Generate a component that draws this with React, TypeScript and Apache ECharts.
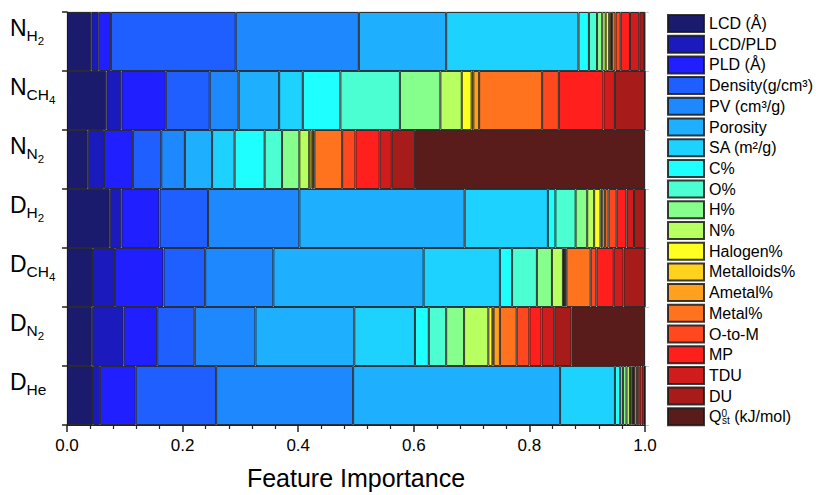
import React, { useEffect, useRef } from "react";
import * as echarts from "echarts";

const features = [
  "LCD (Å)", "LCD/PLD", "PLD (Å)", "Density(g/cm³)", "PV (cm³/g)", "Porosity", "SA (m²/g)",
  "C%", "O%", "H%", "N%", "Halogen%", "Metalloids%", "Ametal%", "Metal%", "O-to-M", "MP", "TDU", "DU",
  "Qst (kJ/mol)",
];
const colors = [
  "#1b1b6e", "#1b1bbd", "#1f1fff", "#1f5eff", "#1e88ff", "#1eb0ff", "#1ed2ff",
  "#1effff", "#4cffd2", "#86ff8c", "#b8ff60", "#ffff20", "#ffd21e", "#ffa01e", "#ff721e",
  "#ff481e", "#ff201e", "#d01c1c", "#a81b1b", "#5a1b1b",
];
// [main letter, subscript, sub-subscript]
const categories = [
  ["N", "H", "2"], ["N", "CH", "4"], ["N", "N", "2"],
  ["D", "H", "2"], ["D", "CH", "4"], ["D", "N", "2"], ["D", "He", ""],
];
const nH2 = [0.042, 0.013, 0.021, 0.216, 0.213, 0.151, 0.229, 0.018, 0.014, 0.009, 0.006, 0.006, 0.003, 0.002, 0.006, 0.009, 0.016, 0.016, 0.009, 0.001];
const nCH4 = [0.068, 0.026, 0.077, 0.076, 0.050, 0.070, 0.041, 0.065, 0.103, 0.070, 0.037, 0.017, 0.003, 0.010, 0.109, 0.029, 0.077, 0.020, 0.052, 0.000];
const nN2 = [0.036, 0.028, 0.050, 0.049, 0.041, 0.047, 0.039, 0.052, 0.030, 0.030, 0.017, 0.004, 0.003, 0.002, 0.048, 0.023, 0.042, 0.021, 0.040, 0.398];
const dH2 = [0.074, 0.020, 0.066, 0.084, 0.158, 0.286, 0.144, 0.013, 0.035, 0.020, 0.012, 0.011, 0.003, 0.005, 0.006, 0.014, 0.017, 0.013, 0.019, 0.000];
const dCH4 = [0.045, 0.038, 0.084, 0.072, 0.118, 0.260, 0.132, 0.021, 0.043, 0.026, 0.019, 0.002, 0.002, 0.002, 0.042, 0.010, 0.030, 0.017, 0.037, 0.000];
const dN2 = [0.043, 0.055, 0.058, 0.065, 0.105, 0.171, 0.105, 0.024, 0.030, 0.031, 0.042, 0.007, 0.002, 0.011, 0.029, 0.022, 0.021, 0.022, 0.030, 0.127];
const dHe = [0.045, 0.012, 0.062, 0.139, 0.237, 0.358, 0.095, 0.009, 0.005, 0.006, 0.006, 0.003, 0.002, 0.002, 0.005, 0.004, 0.004, 0.004, 0.002, 0.000];
const rows = [nH2, nCH4, nN2, dH2, dCH4, dN2, dHe];
const xTicks = ["0.0", "0.2", "0.4", "0.6", "0.8", "1.0"];

const FONT = "'Liberation Sans', Arial, sans-serif";

export default function App() {
  const ref = useRef<HTMLDivElement>(null);
  useEffect(() => {
    if (!ref.current) return;
    const chart = echarts.init(ref.current, null, { renderer: "svg" });
    const catKeys = categories.map((c) => c.join(""));
    const series = features.map((f, i) => ({
      name: f,
      type: "bar",
      stack: "total",
      barWidth: "100%",
      barCategoryGap: 0,
      data: rows.map((r) => r[i]),
      itemStyle: { color: colors[i], borderColor: "rgba(25,25,25,0.85)", borderWidth: 1 },
      emphasis: { disabled: true },
    }));
    chart.setOption({
      animation: false,
      textStyle: { fontFamily: FONT },
      grid: { left: 67, right: 171, top: 12, bottom: 63, show: true, borderColor: "#c8c8c8", borderWidth: 1 },
      legend: {
        orient: "vertical",
        left: 667,
        top: 14,
        padding: 0,
        itemWidth: 36,
        itemHeight: 17,
        itemGap: 1.7,
        icon: "rect",
        data: features,
        formatter: (name: string) =>
          name === "Qst (kJ/mol)" ? "{q|Q}{p|0}{s|st}{t| (kJ/mol)}" : name,
        textStyle: {
          fontFamily: FONT,
          fontSize: 16,
          color: "#000",
          lineHeight: 17,
          rich: {
            q: { fontSize: 16, fontFamily: FONT, color: "#000", lineHeight: 17 },
            p: { fontSize: 10, fontFamily: FONT, color: "#000", width: 0.5, verticalAlign: "top", lineHeight: 10 },
            s: { fontSize: 10, fontFamily: FONT, color: "#000", verticalAlign: "bottom", lineHeight: 10 },
            t: { fontSize: 16, fontFamily: FONT, color: "#000", lineHeight: 17 },
          },
        },
      },
      xAxis: [
        {
          type: "value",
          min: 0,
          max: 1,
          interval: 0.2,
          position: "bottom",
          name: "Feature Importance",
          nameLocation: "middle",
          nameGap: 40,
          nameTextStyle: { fontSize: 25, color: "#000", fontFamily: FONT },
          axisLine: { show: true, lineStyle: { color: "#222", width: 1 } },
          axisTick: { show: true, length: 7, lineStyle: { color: "#222", width: 1.5 } },
          minorTick: { show: true, splitNumber: 5, length: 4, lineStyle: { color: "#222", width: 1.2 } },
          splitLine: { show: false },
          axisLabel: {
            fontSize: 17,
            color: "#000",
            margin: 12,
            fontFamily: FONT,
            formatter: (v: number) => xTicks[Math.round(v / 0.2)] ?? "",
          },
        },
      ],
      yAxis: [
        {
          type: "category",
          inverse: true,
          data: catKeys,
          axisLine: { show: true, lineStyle: { color: "#222", width: 1 } },
          axisTick: { show: true, length: 5, lineStyle: { color: "#222", width: 1.5 } },
          axisLabel: {
            align: "left",
            margin: 57,
            padding: [0, 0, 13, 0],
            formatter: (_v: string, idx: number) => {
              const c = categories[idx];
              return "{a|" + c[0] + "}{b|" + c[1] + "}" + (c[2] ? "{c|" + c[2] + "}" : "");
            },
            rich: {
              a: { fontSize: 23, lineHeight: 23, padding: [0, 0, 7, 0], verticalAlign: "bottom", color: "#000", fontFamily: FONT },
              b: { fontSize: 15.5, lineHeight: 15.5, padding: [0, 0, 3.4, 0], verticalAlign: "bottom", color: "#000", fontFamily: FONT },
              c: { fontSize: 11.5, lineHeight: 11.5, verticalAlign: "bottom", color: "#000", fontFamily: FONT },
            },
          },
        },
        {
          type: "category",
          inverse: true,
          position: "right",
          data: catKeys,
          axisLine: { show: false },
          axisTick: { show: true, length: 4, lineStyle: { color: "#c8c8c8", width: 1 } },
          axisLabel: { show: false },
        },
      ],
      series,
    });
    return () => chart.dispose();
  }, []);
  return <div ref={ref} style={{ width: 816, height: 495, position: "absolute", left: 0, top: 0 }} />;
}
